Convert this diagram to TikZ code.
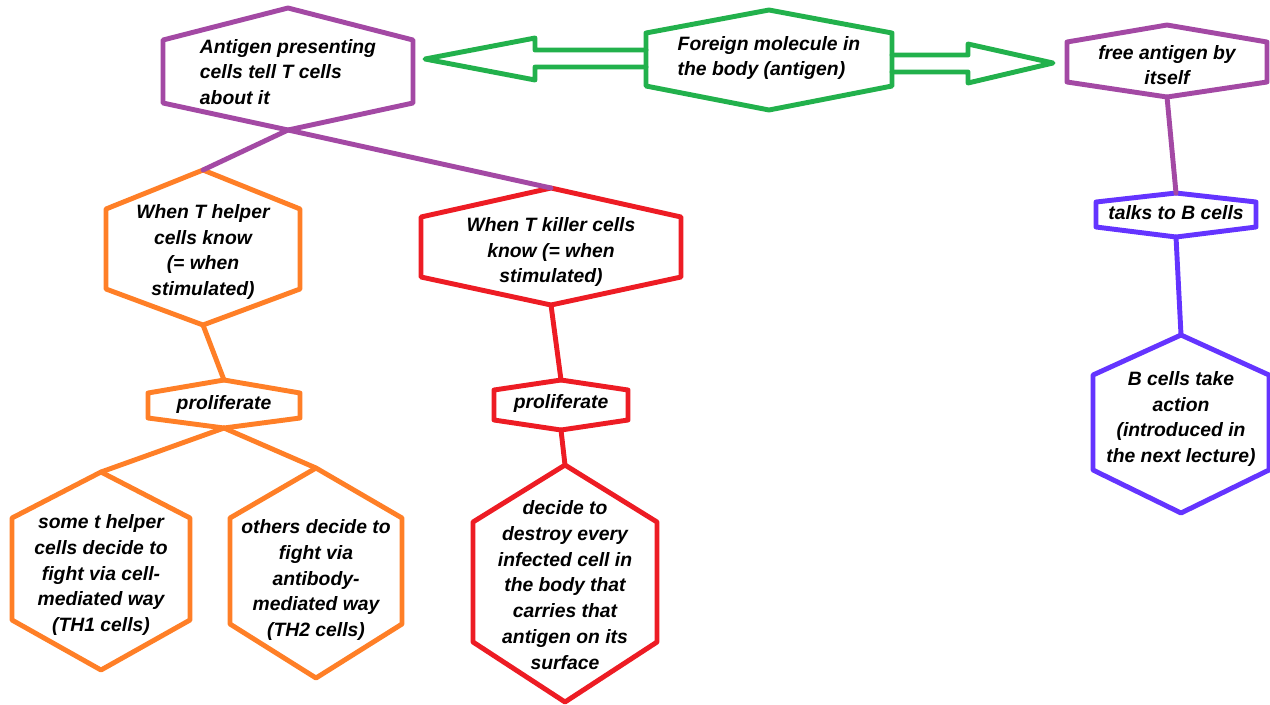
\documentclass[tikz,border=0pt]{standalone}
\usepackage{fontspec}
\setmainfont{Liberation Sans}
\usepackage{tikz}
\usetikzlibrary{calc}

\definecolor{paintpurple}{RGB}{163,73,164}
\definecolor{paintgreen}{RGB}{34,177,76}
\definecolor{paintorange}{RGB}{255,127,39}
\definecolor{paintred}{RGB}{237,28,36}
\definecolor{paintviolet}{RGB}{100,52,255}

\newcommand{\boxfont}{\fontsize{11}{14.7}\selectfont\bfseries\itshape}

% hexagon round a text node: name, colour, half width, up, down, top tip, bottom tip
\newcommand{\hexa}[7]{%
	\coordinate (#1-t) at ($(#1.center)+(0,-#4-#6)$);
	\coordinate (#1-b) at ($(#1.center)+(0,#5+#7)$);
	\coordinate (#1-l) at ($(#1.center)+(-#3,0)$);
	\coordinate (#1-r) at ($(#1.center)+(#3,0)$);
	\draw[draw=#2] ($(#1.center)+(-#3,-#4)$) -- (#1-t) -- ($(#1.center)+(#3,-#4)$)
		-- ($(#1.center)+(#3,#5)$) -- (#1-b) -- ($(#1.center)+(-#3,#5)$) -- cycle;
}

\begin{document}
\begin{tikzpicture}[x=0.02cm,y=-0.02cm]
		\useasboundingbox (0,0) rectangle (1270,704);

		\begin{scope}[every node/.style={font=\boxfont,align=center,inner sep=0pt}]
			\node[align=left] (apc) at (288,72) {Antigen presenting\\cells tell T cells\\about it};
			\node[align=left] (antigen) at (769,58) {Foreign molecule in\\the body (antigen)};
			\node (free) at (1167,65) {free antigen by\\itself};
			\node (helper) at (203,252) {When T helper\\cells know\\(= when\\stimulated)};
			\node (killer) at (551,252) {When T killer cells\\know (= when\\stimulated)};
			\node (prolh) at (224,404) {proliferate};
			\node (prolk) at (561,403) {proliferate};
			\node (th1) at (101,575) {some t helper\\cells decide to\\fight via cell-\\mediated way\\(TH1 cells)};
			\node (th2) at (316,580) {others decide to\\fight via\\antibody-\\mediated way\\(TH2 cells)};
			\node (destroy) at (565,585) {decide to\\destroy every\\infected cell in\\the body that\\carries that\\antigen on its\\surface};
			\node (talks) at (1176,213) {talks to B cells};
			\node (bcells) at (1181,419) {B cells take\\action\\(introduced in\\the next lecture)};
		\end{scope}

		\begin{scope}[line width=2.8pt,line join=round,line cap=round]
			\hexa{apc}{paintpurple}{125}{32}{31}{32}{27}
			\hexa{antigen}{paintgreen}{123}{25}{28}{23}{24}
			\hexa{free}{paintpurple}{100}{23}{17}{17}{15}
			\hexa{helper}{paintorange}{97}{43}{37}{39}{36}
			\hexa{killer}{paintred}{130}{35}{25}{29}{28}
			\hexa{prolh}{paintorange}{76}{11}{14}{13}{10}
			\hexa{prolk}{paintred}{67}{13}{17}{10}{10}
			\hexa{th1}{paintorange}{89}{57}{45}{46}{50}
			\hexa{th2}{paintorange}{86}{62}{44}{50}{54}
			\hexa{destroy}{paintred}{92}{63}{57}{57}{60}
			\hexa{talks}{paintviolet}{80}{11}{14}{9}{10}
			\hexa{bcells}{paintviolet}{88}{44}{51}{40}{43}

			% links
			\draw[paintpurple] (apc-b) -- (helper-t);
			\draw[paintpurple] (apc-b) -- (killer-t);
			\draw[paintorange] (helper-b) -- (prolh-t);
			\draw[paintorange] (prolh-b) -- (th1-t);
			\draw[paintorange] (prolh-b) -- (th2-t);
			\draw[paintred] (killer-b) -- (prolk-t);
			\draw[paintred] (prolk-b) -- (destroy-t);
			\draw[paintpurple] (free-b) -- (talks-t);
			\draw[paintviolet] (talks-b) -- (bcells-t);

			% hollow arrows out of the antigen
			\coordinate (lefttip) at (425,59);
			\coordinate (righttip) at (1053,63);
			\draw[paintgreen] ($(antigen-l |- lefttip)+(0,-9)$) -- ($(lefttip)+(110,-9)$)
				-- ($(lefttip)+(110,-21)$) -- (lefttip) -- ($(lefttip)+(110,21)$)
				-- ($(lefttip)+(110,8)$) -- ($(antigen-l |- lefttip)+(0,8)$);
			\draw[paintgreen] ($(antigen-r |- righttip)+(0,-8)$) -- ($(righttip)+(-85,-8)$)
				-- ($(righttip)+(-85,-19)$) -- (righttip) -- ($(righttip)+(-85,20)$)
				-- ($(righttip)+(-85,9)$) -- ($(antigen-r |- righttip)+(0,9)$);
		\end{scope}
\end{tikzpicture}
\end{document}
